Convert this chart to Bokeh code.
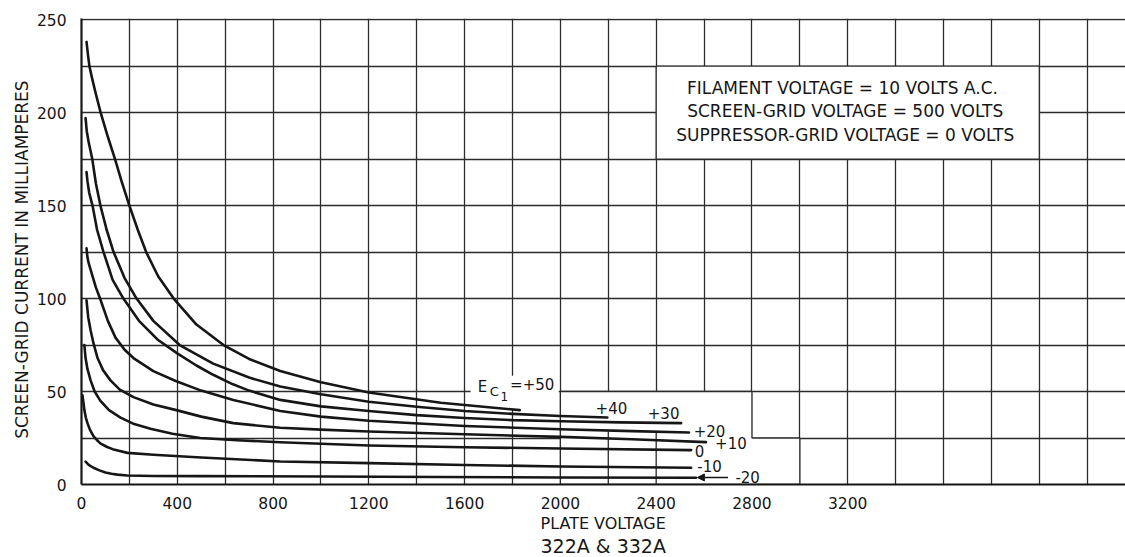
import math

from bokeh.embed import file_html
from bokeh.models import Arrow, FixedTicker, Label, NormalHead, Range1d, Title
from bokeh.plotting import figure
from bokeh.resources import INLINE

# Screen-grid current (mA) against plate voltage (V), one curve per control-grid bias Ec1
ec_p50_v = [21, 27, 33, 45, 60, 80, 110, 140, 170, 200, 235, 270, 320, 385, 480, 593, 700,
            830, 1000, 1200, 1500, 1830]
ec_p50_ma = [238, 231, 225, 218, 210, 200, 187, 175, 162, 150, 137, 125, 112, 100, 86, 75, 67.5,
             61, 55, 49.5, 44, 40]

ec_p40_v = [17, 22, 30, 45, 60, 79, 105, 134, 180, 230, 300, 410, 550, 700, 830, 1000, 1200,
            1400, 1600, 1800, 2000, 2196]
ec_p40_ma = [197, 190, 184, 175, 162, 150, 137, 125, 111, 100, 88, 75, 65, 57.5, 52.7, 48.5, 44.5,
             41.8, 39.5, 38, 36.8, 36]

ec_p30_v = [21, 25, 32, 46, 65, 92, 130, 175, 240, 317, 400, 480, 550, 630, 700, 830, 1000,
            1200, 1400, 1600, 1800, 2000, 2250, 2504]
ec_p30_ma = [168, 163, 157, 150, 137, 125, 110, 100, 88, 78, 70.5, 64, 59, 54, 50.5, 45.5, 42,
             39.5, 37.3, 35.8, 34.6, 34, 33.4, 33]

ec_p20_v = [21, 25, 30, 46, 60, 79, 110, 142, 180, 217, 300, 396, 500, 634, 830, 1000, 1200,
            1600, 2000, 2300, 2537]
ec_p20_ma = [127, 122, 119, 112, 106, 99.5, 88, 79, 72.5, 68, 61, 55.5, 50.5, 45.5, 39.5, 36.5,
             34.3, 31.5, 29.7, 28.7, 28]

ec_p10_v = [21, 28, 38, 50, 67, 90, 121, 160, 217, 300, 396, 500, 634, 830, 1000, 1200, 1600,
            2000, 2300, 2608]
ec_p10_ma = [99, 90, 83, 76, 68, 61.5, 56, 51, 47, 43, 40, 36.5, 33, 30.5, 29.5, 28.5, 27,
             25.6, 24.3, 22.8]

ec_0_v = [12, 17, 25, 38, 55, 79, 115, 163, 220, 288, 380, 496, 650, 830, 1200, 1600, 2000, 2546]
ec_0_ma = [75, 68, 62, 56, 50, 45, 40, 36, 32.5, 30, 27.3, 25, 23.8, 22.7, 21, 20, 19.4, 18.5]

ec_m10_v = [4, 8, 12, 18, 25, 35, 50, 65, 80, 105, 130, 160, 192, 300, 500, 830, 1200, 1600,
            2000, 2546]
ec_m10_ma = [48, 44, 40, 36, 33, 29.5, 26, 23.8, 22, 20.3, 19, 18, 17, 16, 14.5, 12.4, 11.5,
             10.5, 9.7, 9]

ec_m20_v = [17, 30, 50, 75, 100, 125, 150, 192, 300, 500, 1000, 1500, 2000, 2566]
ec_m20_ma = [12.3, 10.6, 9, 7.6, 6.5, 5.8, 5.3, 4.8, 4.6, 4.5, 4.3, 4, 3.8, 3.6]

curves = [
    (ec_p50_v, ec_p50_ma),
    (ec_p40_v, ec_p40_ma),
    (ec_p30_v, ec_p30_ma),
    (ec_p20_v, ec_p20_ma),
    (ec_p10_v, ec_p10_ma),
    (ec_0_v, ec_0_ma),
    (ec_m10_v, ec_m10_ma),
    (ec_m20_v, ec_m20_ma),
]

# Axis ticks and grid
x_tick_values = [0, 400, 800, 1200, 1600, 2000, 2400, 2800, 3200]
y_tick_values = [0, 50, 100, 150, 200, 250]
x_grid_values = list(range(0, 4400, 200))
y_grid_values = list(range(0, 275, 25))

# Bias labels at the curve ends: (text, x, y)
end_labels = [
    ("+40", 2213, 41.4),
    ("+30", 2431, 38.2),
    ("+20", 2623, 28.8),
    ("+10", 2712, 22.4),
    ("0", 2581, 18.0),
    ("-10", 2623, 9.9),
    ("-20", 2782, 4.0),
]

condition_lines = [
    "FILAMENT  VOLTAGE = 10  VOLTS  A.C.",
    "SCREEN-GRID  VOLTAGE = 500  VOLTS",
    "SUPPRESSOR-GRID  VOLTAGE = 0  VOLTS",
]

INK = "#161616"
GRID = "#2b2b2b"
FONT = "DejaVu Sans"

p = figure(
    width=1125,
    height=557,
    x_range=Range1d(0, 4360),
    y_range=Range1d(0, 250.6),
    output_backend="svg",
    toolbar_location=None,
    min_border_left=81,
    min_border_right=0,
    min_border_top=18,
    min_border_bottom=73,
)
p.outline_line_color = None
p.background_fill_color = "white"
p.border_fill_color = "white"

p.xaxis.ticker = FixedTicker(ticks=x_tick_values)
p.yaxis.ticker = FixedTicker(ticks=y_tick_values)
p.xgrid.ticker = FixedTicker(ticks=x_grid_values)
p.ygrid.ticker = FixedTicker(ticks=y_grid_values)
p.grid.grid_line_color = GRID
p.grid.grid_line_width = 1.3
p.grid.grid_line_alpha = 1.0

for ax in (p.xaxis, p.yaxis):
    ax.axis_line_color = INK
    ax.axis_line_width = 2.2
    ax.major_tick_line_color = None
    ax.minor_tick_line_color = None
    ax.major_label_text_font = FONT
    ax.major_label_text_font_size = "15.5px"
    ax.major_label_text_color = INK
p.yaxis.major_label_standoff = 9
p.xaxis.major_label_standoff = 6

# Axis titles, placed as side panels so they sit outside the frame
p.add_layout(Title(text="SCREEN-GRID  CURRENT  IN  MILLIAMPERES", align="center", offset=-36,
                   standoff=3, text_font=FONT, text_font_size="17px",
                   text_font_style="normal", text_color=INK), "left")
p.add_layout(Title(text="PLATE   VOLTAGE", align="left", offset=459, standoff=0,
                   text_font=FONT, text_font_size="16px", text_font_style="normal",
                   text_color=INK), "below")
p.add_layout(Title(text="322A  &  332A", align="left", offset=459, standoff=0,
                   text_font=FONT, text_font_size="19px", text_font_style="normal",
                   text_color=INK), "below")

# Blank panel holding the operating conditions
p.quad(left=2400, right=4000, bottom=175, top=225,
       fill_color="white", line_color=GRID, line_width=1.3)

# Blank area behind the bias labels at the right-hand curve ends
p.patch(x=[2000, 2000, 2800, 2800, 3000, 3000], y=[0, 50, 50, 25, 25, 0],
        fill_color="white", line_color=GRID, line_width=1.3)
p.segment(x0=[2200, 2400], y0=[0, 0], x1=[2200, 2400], y1=[28.5, 28.5],
          line_color=GRID, line_width=1.3)

# Blank area behind the Ec1 = +50 label
p.quad(left=1625, right=1993, bottom=40.5, top=58.5,
       fill_color="white", line_color=None)

for vx, ma in curves:
    p.line(vx, ma, line_color=INK, line_width=2.6, line_join="round", line_cap="round")

for txt, lx, ly in end_labels:
    p.add_layout(Label(x=lx, y=ly, text=txt, text_font=FONT, text_font_size="15px",
                       text_color=INK, text_align="center", text_baseline="middle"))

p.add_layout(Arrow(x_start=2700, y_start=3.8, x_end=2572, y_end=3.8,
                   line_color=INK, line_width=1.5,
                   end=NormalHead(size=7, fill_color=INK, line_color=INK)))

# Ec1 = +50 with its stacked subscripts
p.add_layout(Label(x=1675, y=52.5, text="E", text_font=FONT, text_font_size="15px",
                   text_color=INK, text_align="center", text_baseline="middle"))
p.add_layout(Label(x=1724, y=50.0, text="C", text_font=FONT, text_font_size="13px",
                   text_color=INK, text_align="center", text_baseline="middle"))
p.add_layout(Label(x=1766, y=47.2, text="1", text_font=FONT, text_font_size="12px",
                   text_color=INK, text_align="center", text_baseline="middle"))
p.add_layout(Label(x=1790, y=53.5, text="=+50", text_font=FONT, text_font_size="15px",
                   text_color=INK, text_align="left", text_baseline="middle"))

for i, line in enumerate(condition_lines):
    p.add_layout(Label(x=3212, y=213.4 - 12.6 * i, text=line, text_font=FONT,
                       text_font_size="17px", text_color=INK,
                       text_align="center", text_baseline="middle"))

open("out.html", "w").write(file_html(p, INLINE))
